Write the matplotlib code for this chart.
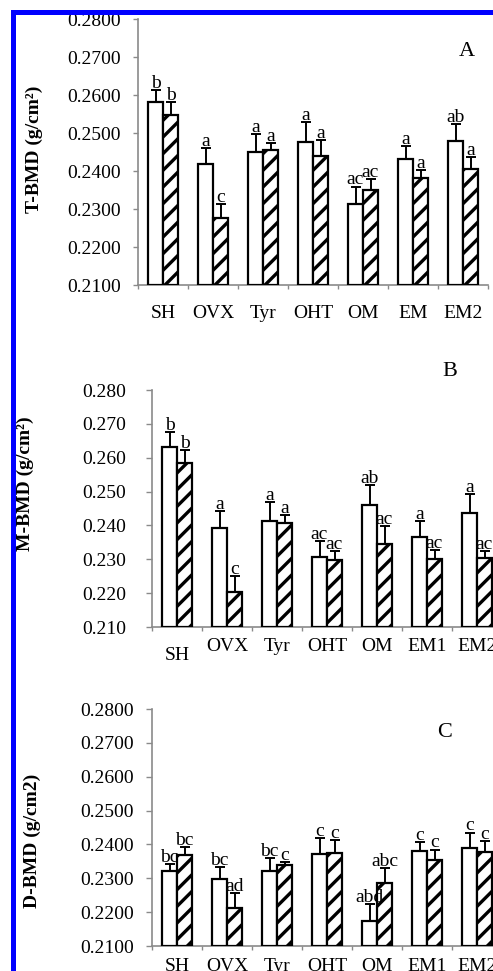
import matplotlib
matplotlib.use("Agg")
import matplotlib.pyplot as plt
from matplotlib.patches import Rectangle

plt.rcParams['font.family'] = ['Liberation Serif', 'DejaVu Serif']
plt.rcParams['hatch.linewidth'] = 2.4

# --- data ---
cats_a = ["SH", "OVX", "Tyr", "OHT", "OM", "EM", "EM2"]
cats_bc = ["SH", "OVX", "Tyr", "OHT", "OM", "EM1", "EM2"]

# A: T-BMD
t_open = [0.2581, 0.2420, 0.2451, 0.2477, 0.2314, 0.2433, 0.2480]
t_open_err = [0.0032, 0.0042, 0.0048, 0.0052, 0.0046, 0.0033, 0.0043]
t_hatch = [0.2549, 0.2277, 0.2455, 0.2441, 0.2352, 0.2382, 0.2407]
t_hatch_err = [0.0032, 0.0038, 0.0018, 0.0042, 0.0027, 0.0022, 0.0031]
t_open_lbl = ["b", "a", "a", "a", "ac", "a", "ab"]
t_hatch_lbl = ["b", "c", "a", "a", "ac", "a", "a"]

# B: M-BMD
m_open = [0.2633, 0.2393, 0.2413, 0.2307, 0.2460, 0.2366, 0.2438]
m_open_err = [0.0044, 0.0049, 0.0057, 0.0046, 0.0059, 0.0047, 0.0055]
m_hatch = [0.2583, 0.2202, 0.2406, 0.2297, 0.2345, 0.2300, 0.2304]
m_hatch_err = [0.0040, 0.0049, 0.0026, 0.0027, 0.0054, 0.0027, 0.0020]
m_open_lbl = ["b", "a", "a", "ac", "ab", "a", "a"]
m_hatch_lbl = ["b", "c", "a", "ac", "ac", "ac", "ac"]

# C: D-BMD
d_open = [0.2321, 0.2299, 0.2321, 0.2371, 0.2173, 0.2381, 0.2388]
d_open_err = [0.0021, 0.0033, 0.0040, 0.0049, 0.0052, 0.0025, 0.0047]
d_hatch = [0.2368, 0.2212, 0.2339, 0.2376, 0.2287, 0.2355, 0.2378]
d_hatch_err = [0.0023, 0.0045, 0.0008, 0.0037, 0.0042, 0.0030, 0.0032]
d_open_lbl = ["bc", "bc", "bc", "c", "abd", "c", "c"]
d_hatch_lbl = ["bc", "ad", "c", "c", "abc", "c", "c"]

y_ticks = [0.21, 0.22, 0.23, 0.24, 0.25, 0.26, 0.27, 0.28]

W, H = 493, 971
fig = plt.figure(figsize=(W / 100, H / 100), dpi=100)


def px_axes(left, top, bottom, width=350):
    # axes rect from pixel coords (origin top-left)
    return fig.add_axes([left / W, 1 - bottom / H, width / W, (bottom - top) / H])


def draw_panel(ax, cats, ov, oe, hv, he, ol, hl, fmt, ytick_len, ytick_pad, xlab_pad):
    base = y_ticks[0]
    w = 0.3
    x = [i + 0.5 for i in range(len(cats))]
    xo = [xi - w / 2 for xi in x]
    xh = [xi + w / 2 for xi in x]
    ax.bar(xo, [v - base for v in ov], width=w, bottom=base, color='white',
           edgecolor='black', linewidth=1.6, zorder=3)
    ax.bar(xh, [v - base for v in hv], width=w, bottom=base, color='white',
           edgecolor='black', linewidth=1.6, hatch='//', zorder=3)
    for xs, vs, es in ((xo, ov, oe), (xh, hv, he)):
        ax.errorbar(xs, vs, yerr=[[0] * len(es), es], fmt='none', ecolor='black',
                    elinewidth=1.4, capsize=3.8, capthick=1.4, zorder=4)
    for xs, vs, es, lb in ((xo, ov, oe, ol), (xh, hv, he, hl)):
        for xi, v, e, t in zip(xs, vs, es, lb):
            ax.annotate(t, (xi, v + e), xytext=(0, 1.5), textcoords='offset points',
                        ha='center', va='baseline', fontsize=14, zorder=5)
    for xi, c, p in zip(x, cats, xlab_pad):
        ax.annotate(c, (xi, 0), xycoords=('data', 'axes fraction'),
                    xytext=(0, -p), textcoords='offset points',
                    ha='center', va='top', fontsize=14, annotation_clip=False)

    ax.set_xlim(0, len(cats))
    ax.set_ylim(base, y_ticks[-1])
    ax.set_yticks(y_ticks)
    ax.set_yticklabels([fmt % v for v in y_ticks])
    ax.set_xticks(range(len(cats) + 1))
    ax.set_xticklabels([])
    for s in ('top', 'right'):
        ax.spines[s].set_visible(False)
    for s in ('left', 'bottom'):
        ax.spines[s].set_color('#8a8a8a')
        ax.spines[s].set_linewidth(1.2)
    ax.tick_params(axis='y', direction='out', length=ytick_len, width=1.0,
                   color='#8a8a8a', pad=ytick_pad, labelsize=14)
    ax.tick_params(axis='x', direction='out', length=3, width=1.0, color='#8a8a8a')


ax_a = px_axes(138, 19, 285.5)
draw_panel(ax_a, cats_a, t_open, t_open_err, t_hatch, t_hatch_err,
           t_open_lbl, t_hatch_lbl, '%.4f', 3.6, 8.5, [14] * 7)

ax_b = px_axes(152, 390, 627)
draw_panel(ax_b, cats_bc, m_open, m_open_err, m_hatch, m_hatch_err,
           m_open_lbl, m_hatch_lbl, '%.3f', 4.3, 14.5, [14.5, 8, 8, 8, 8, 8, 8])

ax_c = px_axes(152, 709, 946)
draw_panel(ax_c, cats_bc, d_open, d_open_err, d_hatch, d_hatch_err,
           d_open_lbl, d_hatch_lbl, '%.4f', 4.3, 9, [8.5] * 7)

# y labels and panel letters
fig.text(34 / W, 1 - 149 / H, "T-BMD (g/cm²)", rotation=90, ha='center', va='center',
         fontsize=14, fontweight='bold')
fig.text(25 / W, 1 - 484 / H, "M-BMD (g/cm²)", rotation=90, ha='center', va='center',
         fontsize=14, fontweight='bold')
fig.text(32 / W, 1 - 841 / H, "D-BMD (g/cm2)", rotation=90, ha='center', va='center',
         fontsize=14, fontweight='bold')
fig.text(467 / W, 1 - 51 / H, "A", ha='center', va='center', fontsize=16)
fig.text(450 / W, 1 - 372 / H, "B", ha='center', va='center', fontsize=16)
fig.text(445 / W, 1 - 732 / H, "C", ha='center', va='center', fontsize=16)

# blue frame, left and top edges
fig.add_artist(Rectangle((0, 0), 11 / W, 1, transform=fig.transFigure,
                         facecolor='white', edgecolor='none', zorder=9))
fig.add_artist(Rectangle((0, 1 - 10 / H), 1, 10 / H, transform=fig.transFigure,
                         facecolor='white', edgecolor='none', zorder=9))
fig.add_artist(Rectangle((11 / W, 0), 5 / W, 1 - 10 / H, transform=fig.transFigure,
                         facecolor='#0000ff', edgecolor='none', zorder=10))
fig.add_artist(Rectangle((11 / W, 1 - 15 / H), 1, 5 / H, transform=fig.transFigure,
                         facecolor='#0000ff', edgecolor='none', zorder=10))

fig.savefig("out.png", dpi=100)
